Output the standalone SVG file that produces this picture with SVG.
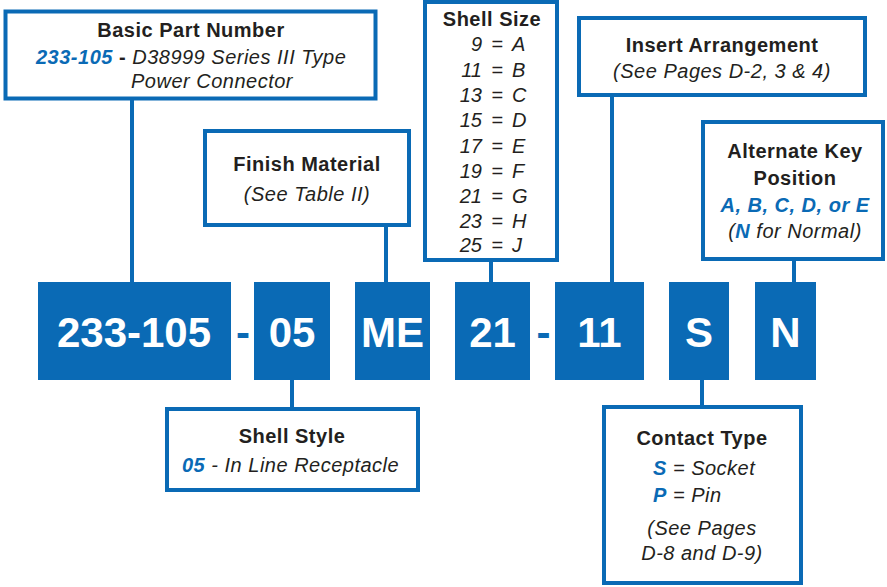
<svg xmlns="http://www.w3.org/2000/svg" width="887" height="587" viewBox="0 0 887 587">
<style>
.box{fill:#fff;stroke:#0a6ab5;stroke-width:4}
.blk{fill:#0a6ab5}
.con{stroke:#0a6ab5;stroke-width:4;fill:none}
text{font-family:"Liberation Sans",Arial,sans-serif;fill:#231f20}
.t{font-weight:bold;font-size:20px;letter-spacing:0.5px;text-anchor:middle}
.i{font-style:italic;font-size:20px;letter-spacing:0.5px}
.b{fill:#0a6ab5;font-weight:bold}
.big{font-weight:bold;font-size:42px;fill:#fff;text-anchor:middle}
.dash{font-weight:bold;font-size:42px;fill:#0a6ab5;text-anchor:middle}
.s{font-style:italic;font-size:20px}
.e{text-anchor:end}
.m{text-anchor:middle}
</style>
<g id="connectors">
<line class="con" x1="132" y1="99" x2="132" y2="283"/>
<line class="con" x1="386" y1="226" x2="386" y2="283"/>
<line class="con" x1="491" y1="261" x2="491" y2="283"/>
<line class="con" x1="612" y1="96" x2="612" y2="283"/>
<line class="con" x1="794" y1="259" x2="794" y2="283"/>
<line class="con" x1="292" y1="379" x2="292" y2="408"/>
<line class="con" x1="702" y1="379" x2="702" y2="406"/>
</g>
<g id="basic-part-number">
<rect class="box" x="5.5" y="11.5" width="370" height="87"/>
<text class="t" x="191" y="37">Basic Part Number</text>
<text class="i" x="36" y="64"><tspan class="b">233-105</tspan><tspan font-style="normal" font-weight="bold"> - </tspan>D38999 Series III Type</text>
<text class="i" x="131" y="88">Power Connector</text>
</g>
<g id="finish-material">
<rect class="box" x="205" y="131" width="204" height="94"/>
<text class="t" x="307" y="171">Finish Material</text>
<text class="i m" x="307" y="201">(See Table II)</text>
</g>
<g id="shell-size">
<rect class="box" x="425" y="2" width="132" height="258"/>
<text class="t" x="492" y="26">Shell Size</text>
<text class="s e" x="482" y="51">9</text><text class="s m" x="497" y="51">=</text><text class="s" x="512" y="51">A</text>
<text class="s e" x="482" y="77">11</text><text class="s m" x="497" y="77">=</text><text class="s" x="512" y="77">B</text>
<text class="s e" x="482" y="102">13</text><text class="s m" x="497" y="102">=</text><text class="s" x="512" y="102">C</text>
<text class="s e" x="482" y="127">15</text><text class="s m" x="497" y="127">=</text><text class="s" x="512" y="127">D</text>
<text class="s e" x="482" y="153">17</text><text class="s m" x="497" y="153">=</text><text class="s" x="512" y="153">E</text>
<text class="s e" x="482" y="178">19</text><text class="s m" x="497" y="178">=</text><text class="s" x="512" y="178">F</text>
<text class="s e" x="482" y="203">21</text><text class="s m" x="497" y="203">=</text><text class="s" x="512" y="203">G</text>
<text class="s e" x="482" y="228">23</text><text class="s m" x="497" y="228">=</text><text class="s" x="512" y="228">H</text>
<text class="s e" x="482" y="252">25</text><text class="s m" x="497" y="252">=</text><text class="s" x="512" y="252">J</text>
</g>
<g id="insert-arrangement">
<rect class="box" x="579" y="18" width="286" height="77"/>
<text class="t" x="722" y="52">Insert Arrangement</text>
<text class="i m" x="722" y="78">(See Pages D-2, 3 &amp; 4)</text>
</g>
<g id="alternate-key">
<rect class="box" x="703" y="122" width="180" height="137"/>
<text class="t" x="795" y="158">Alternate Key</text>
<text class="t" x="795" y="185">Position</text>
<text class="i b m" x="795" y="212">A, B, C, D, or E</text>
<text class="i m" x="795" y="238">(<tspan class="b">N</tspan> for Normal)</text>
</g>
<g id="code-233-105">
<rect class="blk" x="38" y="282" width="193" height="98"/>
<text class="big" x="134" y="347">233-105</text>
</g>
<text class="dash" x="243" y="347">-</text>
<g id="code-05">
<rect class="blk" x="254" y="282" width="76" height="98"/>
<text class="big" x="292" y="347">05</text>
</g>
<g id="code-ME">
<rect class="blk" x="355" y="282" width="75" height="98"/>
<text class="big" x="392.5" y="347">ME</text>
</g>
<g id="code-21">
<rect class="blk" x="455" y="282" width="75" height="98"/>
<text class="big" x="492.5" y="347">21</text>
</g>
<text class="dash" x="543.5" y="347">-</text>
<g id="code-11">
<rect class="blk" x="555" y="282" width="89" height="98"/>
<text class="big" x="599.5" y="347">11</text>
</g>
<g id="code-S">
<rect class="blk" x="669" y="282" width="60" height="98"/>
<text class="big" x="699" y="347">S</text>
</g>
<g id="code-N">
<rect class="blk" x="755" y="282" width="61" height="98"/>
<text class="big" x="785.5" y="347">N</text>
</g>
<g id="shell-style">
<rect class="box" x="167" y="409" width="251" height="81"/>
<text class="t" x="292" y="443">Shell Style</text>
<text class="i" x="182" y="472"><tspan class="b">05</tspan> - In Line Receptacle</text>
</g>
<g id="contact-type">
<rect class="box" x="604" y="407" width="197" height="176"/>
<text class="t" x="702" y="445">Contact Type</text>
<text class="i" x="653" y="475"><tspan class="b">S</tspan> = Socket</text>
<text class="i" x="653" y="502"><tspan class="b">P</tspan> = Pin</text>
<text class="i m" x="702" y="535">(See Pages</text>
<text class="i m" x="702" y="560">D-8 and D-9)</text>
</g>
</svg>
